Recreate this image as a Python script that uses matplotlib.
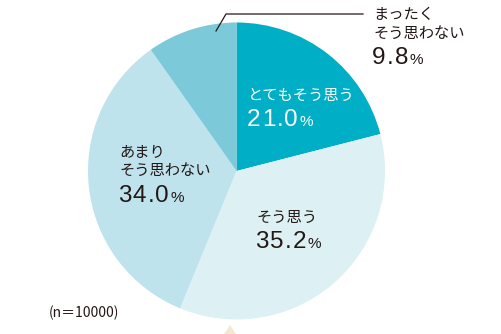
import matplotlib.pyplot as plt
from matplotlib.patches import Polygon

labels = ["とてもそう思う", "そう思う", "あまり\nそう思わない", "まったく\nそう思わない"]
values = [21.0, 35.2, 34.0, 9.8]
colors = ["#00AEC6", "#DDF0F4", "#BEE3EC", "#7CCAD9"]
note = "(n＝10000)"

W, H = 501, 334
fig = plt.figure(figsize=(W / 100, H / 100), dpi=100)
ax = fig.add_axes([0, 0, 1, 1])

cx, cy, r = 236.5, H - 171, 148.5
ax.pie(values, colors=colors, startangle=90, counterclock=False,
       center=(cx, cy), radius=r, frame=True,
       wedgeprops=dict(linewidth=0))
ax.set_xlim(0, W)
ax.set_ylim(0, H)
ax.set_aspect("equal")
ax.axis("off")

# small marker below the pie
ax.add_patch(Polygon([(224, 0), (236, 0), (230, 9)], closed=True,
                     color="#F6E8CF", lw=0))

jp = ["Noto Sans CJK JP", "DejaVu Sans"]
num = ["Liberation Sans", "DejaVu Sans"]
dark = "#231815"
renderer = fig.canvas.get_renderer()


def spaced(x, y, s, size, color, track):
    # draw a string char by char with extra letter spacing, return end x
    for ch in s:
        t = ax.text(x, y, ch, fontsize=size, family=num, color=color,
                    ha="left", va="baseline")
        bb = t.get_window_extent(renderer)
        x = bb.x1 + track
    return x


# label positions in pixel coords (x, y of first line centre), text colour
pos = [(248, 95, "white"), (256, 217, dark), (119, 152, dark), (373, 15, dark)]

for lab, v, (x, y, c) in zip(labels, values, pos):
    lines = lab.split("\n")
    for i, line in enumerate(lines):
        ax.text(x, H - (y + i * 18.5), line, fontsize=11, family=jp,
                color=c, ha="left", va="center")
    base = y + (len(lines) - 1) * 18.5 + 31
    end = spaced(x - 1, H - base, f"{v:.1f}", 17.5, c, 1.2)
    ax.text(end + 0.5, H - base, "%", fontsize=11, family=num,
            color=c, ha="left", va="baseline")

# leader line for the smallest slice
ax.plot([216, 226, 363], [H - 31, H - 14, H - 14], color="#231815", lw=0.9)

ax.text(49, H - 313, note, fontsize=10, family=jp,
        color=dark, ha="left", va="center")

fig.savefig("out.png", dpi=100)
